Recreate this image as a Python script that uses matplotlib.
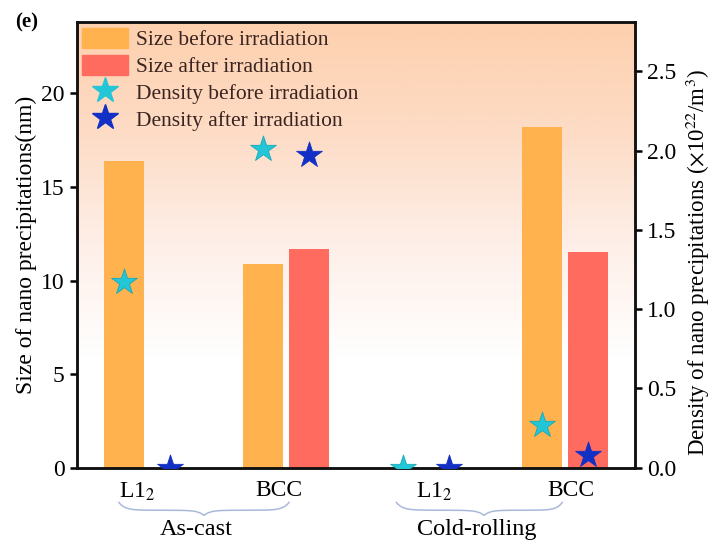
import numpy as np
import matplotlib.pyplot as plt
from matplotlib.patches import Patch
from matplotlib.lines import Line2D
from matplotlib.colors import LinearSegmentedColormap
import matplotlib.transforms as mtransforms

plt.rcParams['font.family'] = ['Liberation Serif', 'DejaVu Serif']
plt.rcParams['mathtext.fontset'] = 'stix'

# phases in each processing state
phases = ['L1$_2$', 'BCC', 'L1$_2$', 'BCC']
states = ['As-cast', 'Cold-rolling']

# precipitate size (nm)
size_before = [16.4, 10.9, 0.0, 18.2]
size_after = [0.0, 11.7, 0.0, 11.5]

# number density (x10^22 /m^3)
dens_before = [1.17, 2.01, 0.0, 0.27]
dens_after = [0.0, 1.97, 0.0, 0.08]

c_before = '#FFB24E'
c_after = '#FF6B5F'
c_star1 = '#22C6D6'
c_star2 = '#1230C4'

fig = plt.figure(figsize=(7.14, 5.42), dpi=100)
ax = fig.add_axes([0.108, 0.137, 0.781, 0.822])
ax2 = ax.twinx()

x = np.arange(len(phases))
w = 0.29
off = 0.165

# peach-to-white gradient behind the bars
cmap = LinearSegmentedColormap.from_list('bg', ['#FFFFFF', '#FFFFFF', '#FEEFE8', '#FDDCC6', '#FDD0AE'])
grad = np.linspace(0, 1, 256).reshape(-1, 1)
ax.imshow(grad, aspect='auto', cmap=cmap, origin='lower',
          extent=[-0.5, 3.5, 0, 23.8], zorder=0)

ax.bar(x - off, size_before, w, color=c_before, zorder=2)
ax.bar(x + off, size_after, w, color=c_after, zorder=2)

ax2.scatter(x - off, dens_before, marker='*', s=380, color=c_star1,
            edgecolors='#18A9B8', linewidths=0.6, clip_on=True, zorder=3)
ax2.scatter(x + off, dens_after, marker='*', s=380, color=c_star2,
            edgecolors=c_star2, linewidths=0.6, clip_on=True, zorder=3)

ax.set_xlim(-0.5, 3.5)
ax.set_ylim(0, 23.8)
ax2.set_ylim(0, 2.81)
ax.set_yticks([0, 5, 10, 15, 20])
ax2.set_yticks([0.0, 0.5, 1.0, 1.5, 2.0, 2.5])
ax2.set_yticklabels(['0.0', '0.5', '1.0', '1.5', '2.0', '2.5'])
ax.set_xticks([-0.07, 0.95, 2.06, 3.04])
ax.set_xticklabels(phases, fontsize=17)
ax.tick_params(axis='x', length=0, pad=9)
ax.tick_params(axis='y', labelsize=17, width=1.8, length=5, pad=4)
ax2.tick_params(axis='y', labelsize=17, width=1.8, length=5, pad=4)
for a in (ax, ax2):
    for s in a.spines.values():
        s.set_linewidth(1.8)
        s.set_color('#111111')

ax.set_ylabel('Size of nano precipitations(nm)', fontsize=17, labelpad=3)
ax2.set_ylabel('Density of nano precipitations ($\\times$10$^{22}$/m$^{3}$)',
               fontsize=16.5)
ax2.yaxis.set_label_coords(1.088, 0.46)

# curly braces grouping the phases by processing state
trans = mtransforms.blended_transform_factory(ax.transData, fig.transFigure)


def brace(x0, x1, xtip, ytop, depth, color='#A9B9D9'):
    xx = np.linspace(x0, x1, 300)
    # distance from the nearest end, normalised on each side of the tip
    left = xx <= xtip
    u = np.where(left, (xx - x0) / (xtip - x0), (x1 - xx) / (x1 - xtip))
    yy = ytop - depth * (0.6 * (1 - np.exp(-u * 14)) + 0.4 * np.exp(-(1 - u) * 14))
    ax.plot(xx, yy, color=color, lw=1.1, transform=trans, clip_on=False)


brace(-0.2, 1.02, 0.41, 0.073, 0.024)
brace(1.79, 2.98, 2.42, 0.073, 0.024)
for cx, lab in zip([0.355, 2.37], states):
    fig.text(cx, 0.012, lab, fontsize=17.5, ha='center', va='baseline', transform=trans)

handles = [Patch(color=c_before), Patch(color=c_after),
           Line2D([], [], linestyle='none', marker='*', markersize=19, color=c_star1),
           Line2D([], [], linestyle='none', marker='*', markersize=19, color=c_star2)]
labels = ['Size before irradiation', 'Size after irradiation',
          'Density before irradiation', 'Density after irradiation']
leg = ax2.legend(handles, labels, loc='upper left', frameon=False, fontsize=15.5,
                 handlelength=2.1, handleheight=1.1, labelspacing=0.2,
                 handletextpad=0.4, borderaxespad=0.15, borderpad=0.1)
for t in leg.get_texts():
    t.set_color('#3a2420')

fig.text(0.021, 0.958, '(e)', fontsize=15, fontweight='bold', va='center')

fig.savefig('out.png', dpi=100)
